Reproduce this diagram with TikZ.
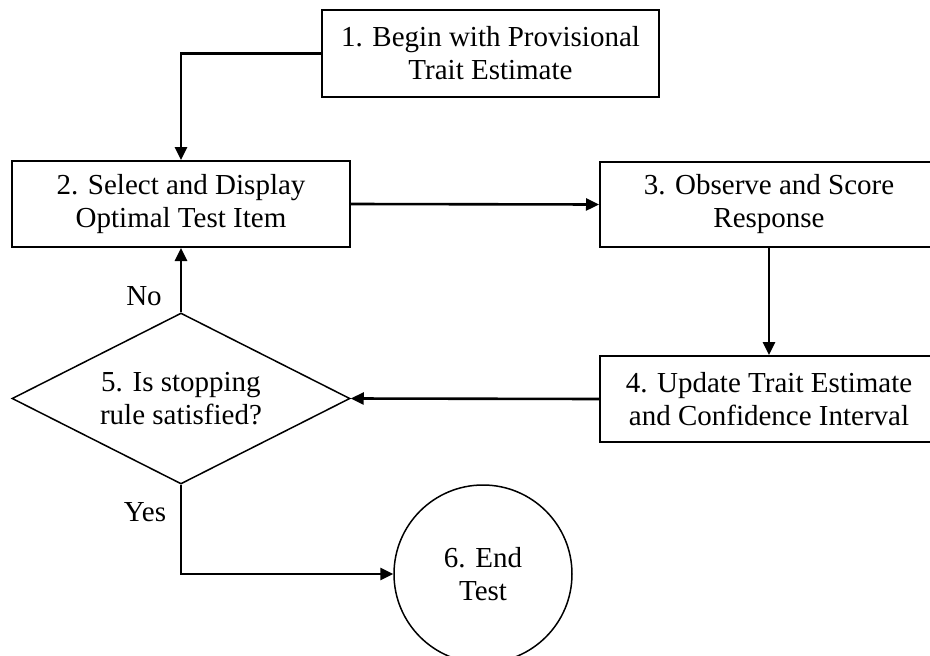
\documentclass[tikz,border=0pt]{standalone}
\usepackage{fontspec}
\setmainfont{Liberation Serif}
\usetikzlibrary{shapes.geometric,arrows.meta}
\begin{document}
\begin{tikzpicture}[x=1pt,y=-1pt,
  every node/.style={font=\fontsize{29}{33}\selectfont, align=center},
  stepbox/.style={draw, line width=2pt, rectangle, inner sep=0pt, minimum width=338pt, minimum height=86pt},
  decide/.style={draw, line width=1.5pt, diamond, aspect=2, inner sep=0pt, minimum width=338pt, minimum height=171pt},
  endnode/.style={draw, line width=1.5pt, circle, inner sep=0pt, minimum size=178pt},
  conn/.style={line width=2.6pt, -{Triangle[length=13pt,width=12pt]}},
  lbl/.style={inner sep=0pt}]
\path[use as bounding box] (0,0) rectangle (930,656);
\fill[white] (0,0) rectangle (930,656);
\clip (0,0) rectangle (930,656);
\node[stepbox, minimum width=337pt, minimum height=87pt] (b1) at (490.5,53.5) {1. Begin with Provisional\\Trait Estimate};
\node[stepbox] (b2) at (181,204) {2. Select and Display\\Optimal Test Item};
\node[stepbox, minimum height=85pt] (b3) at (769,204.5) {3. Observe and Score\\Response};
\node[stepbox] (b4) at (769,399) {4. Update Trait Estimate\\and Confidence Interval};
\node[decide] (d5) at (181,398.5) {5. Is stopping\\rule satisfied?};
\node[endnode] (c6) at (483,574) {6. End\\Test};
\draw[conn] (b1.west) -| (b2.north);
\draw[conn] (b2.east) -- (b3.west);
\draw[conn] (b3.south) -- (b4.north);
\draw[conn] (b4.west) -- (d5.east);
\draw[conn] (d5.north) -- (b2.south);
\draw[conn] (d5.south) |- (c6.west);
\node[lbl] (no) at (144,296) {No};
\node[lbl] (yes) at (145,512) {Yes};
\end{tikzpicture}
\end{document}
